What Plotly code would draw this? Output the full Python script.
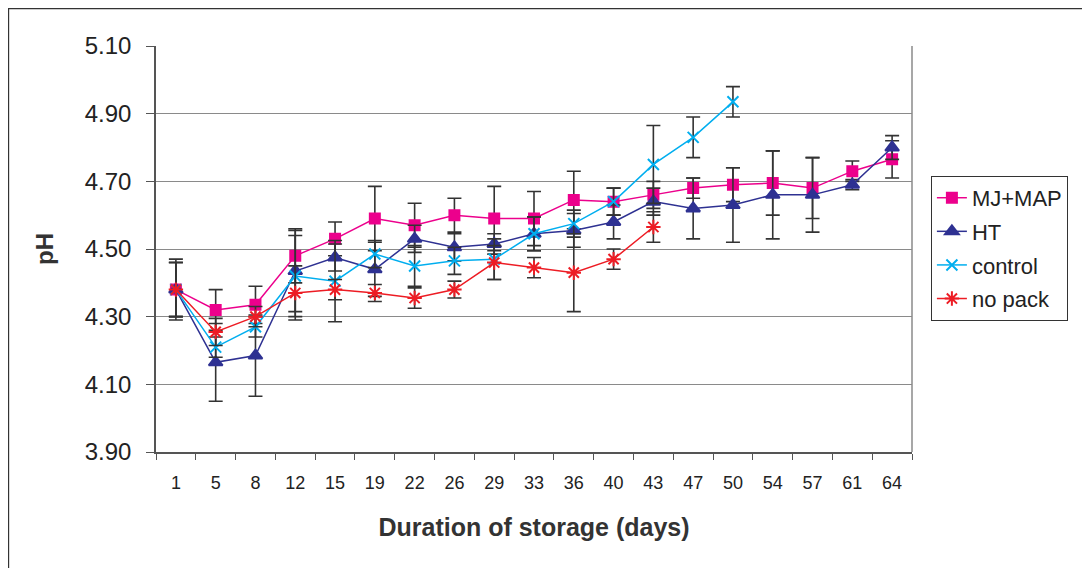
import plotly.graph_objects as go

days = ["1", "5", "8", "12", "15", "19", "22", "26", "29", "33", "36", "40", "43", "47", "50", "54", "57", "61", "64"]

mj_map = [4.38, 4.32, 4.335, 4.48, 4.53, 4.59, 4.57, 4.60, 4.59, 4.59, 4.645, 4.64, 4.66, 4.68, 4.69, 4.695, 4.68, 4.73, 4.765]
mj_map_err = [0.09, 0.06, 0.055, 0.08, 0.05, 0.095, 0.065, 0.05, 0.095, 0.08, 0.085, 0.04, 0.04, 0.03, 0.05, 0.095, 0.09, 0.03, 0.055]

ht = [4.38, 4.165, 4.185, 4.435, 4.475, 4.44, 4.53, 4.505, 4.515, 4.545, 4.555, 4.58, 4.64, 4.62, 4.63, 4.66, 4.66, 4.69, 4.80]
ht_err = [0.08, 0.115, 0.12, 0.12, 0.04, 0.08, 0.04, 0.04, 0.03, 0.05, 0.05, 0.05, 0.04, 0.09, 0.11, 0.13, 0.11, 0.015, 0.035]

control = [4.38, 4.21, 4.27, 4.42, 4.405, 4.485, 4.45, 4.465, 4.47, 4.545, 4.575, 4.64, 4.75, 4.83, 4.935]
control_err = [0.08, 0.03, 0.03, 0.12, 0.12, 0.04, 0.06, 0.04, 0.06, 0.05, 0.04, 0.04, 0.115, 0.06, 0.045]

no_pack = [4.38, 4.255, 4.30, 4.37, 4.38, 4.37, 4.355, 4.38, 4.46, 4.445, 4.43, 4.47, 4.565]
no_pack_err = [0.08, 0.04, 0.03, 0.08, 0.03, 0.025, 0.03, 0.025, 0.05, 0.03, 0.115, 0.03, 0.045]

y_ticks = [3.90, 4.10, 4.30, 4.50, 4.70, 4.90, 5.10]

series = [
    ("MJ+MAP", mj_map, mj_map_err, "#EC008C", "square", 10),
    ("HT", ht, ht_err, "#2E3192", "triangle-up", 12),
    ("control", control, control_err, "#00AEEF", "x-thin-open", 11),
    ("no pack", no_pack, no_pack_err, "#ED1C24", "asterisk-open", 12),
]

fig = go.Figure()
for name, vals, errs, col, sym, size in series:
    fig.add_trace(go.Scatter(
        x=days[:len(vals)], y=vals, name=name, legendgroup=name, mode="lines+markers",
        line=dict(color=col, width=1.5),
        marker=dict(symbol=sym, size=size, color=col, line=dict(color=col, width=2)),
        error_y=dict(type="data", array=errs, visible=True, color="#333333", thickness=1.6, width=7),
    ))

fig.update_layout(
    width=1082, height=560,
    paper_bgcolor="white", plot_bgcolor="white",
    margin=dict(l=148, r=178, t=38, b=116),
    font=dict(family="Liberation Sans, Arial, sans-serif", color="#222222"),
    showlegend=True,
    legend=dict(
        x=1.025, y=0.68, xanchor="left", yanchor="top",
        bordercolor="#333333", borderwidth=1, bgcolor="white",
        font=dict(size=22, color="#222222"), tracegroupgap=2,
        traceorder="grouped",
    ),
    shapes=[dict(type="rect", xref="paper", yref="paper",
                 x0=-0.195, x1=1.233, y0=-0.35, y1=1.092,
                 line=dict(color="#333333", width=1.2), fillcolor="rgba(0,0,0,0)", layer="below")],
)

fig.update_xaxes(
    type="category", categoryorder="array", categoryarray=days,
    tickson="boundaries", ticks="outside", ticklen=6, tickcolor="#555555",
    showline=True, linecolor="#555555", linewidth=1.5, mirror=False,
    showgrid=False,
    tickfont=dict(size=18, color="#222222"), ticklabelstandoff=14,
    title=dict(text="<b>Duration of storage (days)</b>", font=dict(size=25, color="#333333"), standoff=26),
    range=[-0.5, 18.5],
)
fig.update_yaxes(
    range=[3.90, 5.10], tickvals=y_ticks, tickformat=".2f",
    ticks="outside", ticklen=8, tickcolor="#555555",
    showline=True, linecolor="#555555", linewidth=1.5,
    showgrid=True, gridcolor="#8a8a8a", gridwidth=1,
    tickfont=dict(size=24, color="#222222"), ticklabelstandoff=10,
    title=dict(text="<b>pH</b>", font=dict(size=24, color="#333333"), standoff=24),
    zeroline=False,
)
fig.add_shape(type="line", xref="paper", yref="paper", x0=1, x1=1, y0=0, y1=1,
              line=dict(color="#8a8a8a", width=1.5))

fig.write_html("out.html")
